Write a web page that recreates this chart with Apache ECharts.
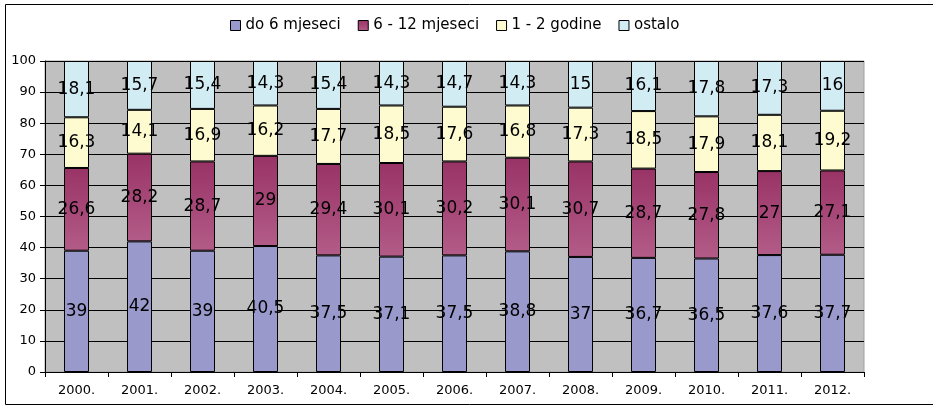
<!DOCTYPE html>
<html>
<head>
<meta charset="utf-8">
<script src="https://cdn.jsdelivr.net/npm/echarts@6/dist/echarts.min.js"></script>
<style>
  html, body { margin: 0; padding: 0; background: #fff; }
  #main { width: 933px; height: 409px; }
</style>
</head>
<body>
<div id="main"></div>
<script>
// podaci
var years = ['2000.', '2001.', '2002.', '2003.', '2004.', '2005.', '2006.', '2007.', '2008.', '2009.', '2010.', '2011.', '2012.'];
var do6 = [39, 42, 39, 40.5, 37.5, 37.1, 37.5, 38.8, 37, 36.7, 36.5, 37.6, 37.7];
var m6do12 = [26.6, 28.2, 28.7, 29, 29.4, 30.1, 30.2, 30.1, 30.7, 28.7, 27.8, 27, 27.1];
var god1do2 = [16.3, 14.1, 16.9, 16.2, 17.7, 18.5, 17.6, 16.8, 17.3, 18.5, 17.9, 18.1, 19.2];
var ostalo = [18.1, 15.7, 15.4, 14.3, 15.4, 14.3, 14.7, 14.3, 15, 16.1, 17.8, 17.3, 16];
var names = ['do 6 mjeseci', '6 - 12 mjeseci', '1 - 2 godine', 'ostalo'];

var font = 'DejaVu Sans, sans-serif';
var colors = [
    '#9999cc',
    new echarts.graphic.LinearGradient(0, 0, 0, 1, [{offset: 0, color: '#993366'}, {offset: 1, color: '#b35c88'}]),
    '#fdfbcf',
    '#d2ecf4'
];

function makeSeries(name, data, i) {
    return {
        name: name,
        type: 'bar',
        stack: 'ukupno',
        data: data,
        barWidth: 25,
        itemStyle: { color: colors[i], borderColor: '#000', borderWidth: 1 },
        label: {
            show: true,
            position: 'inside',
            color: '#000',
            fontFamily: font,
            fontSize: 17,
            formatter: function (p) { return String(p.value).replace('.', ','); }
        }
    };
}

var myChart = echarts.init(document.getElementById('main'));
var option = {
    animation: false,
    backgroundColor: '#fff',
    graphic: [{
        type: 'rect',
        shape: { x: 5.5, y: 4.5, width: 940, height: 400 },
        style: { fill: 'none', stroke: '#000', lineWidth: 1 },
        silent: true
    }],
    legend: {
        data: names,
        left: 225,
        top: 13,
        itemWidth: 10,
        itemHeight: 10,
        itemGap: 17,
        icon: 'rect',
        itemStyle: { borderColor: '#000', borderWidth: 1 },
        textStyle: { fontFamily: font, fontSize: 15, color: '#000' }
    },
    grid: {
        left: 45, right: 69, top: 61, bottom: 37,
        show: true,
        backgroundColor: '#c0c0c0',
        borderColor: '#a0a0a0',
        borderWidth: 1
    },
    xAxis: {
        type: 'category',
        data: years,
        axisLine: { lineStyle: { color: '#000' } },
        axisTick: { show: true, length: 5, lineStyle: { color: '#000' } },
        axisLabel: { color: '#000', fontFamily: font, fontSize: 13, margin: 12 }
    },
    yAxis: {
        type: 'value',
        min: 0,
        max: 100,
        interval: 10,
        axisLine: { show: true, lineStyle: { color: '#000' } },
        axisTick: { show: true, length: 5, lineStyle: { color: '#000' } },
        axisLabel: { color: '#000', fontFamily: font, fontSize: 13, margin: 9 },
        splitLine: { lineStyle: { color: '#000', width: 1 } }
    },
    series: [
        makeSeries(names[0], do6, 0),
        makeSeries(names[1], m6do12, 1),
        makeSeries(names[2], god1do2, 2),
        makeSeries(names[3], ostalo, 3)
    ]
};
myChart.setOption(option);
</script>
</body>
</html>
